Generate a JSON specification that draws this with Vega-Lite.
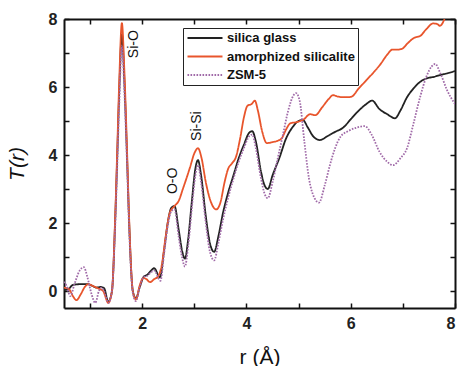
{
  "$schema": "https://vega.github.io/schema/vega-lite/v6.json",
  "width": 391,
  "height": 289,
  "autosize": {"type": "none"},
  "padding": {"left": 64, "top": 19, "right": 3, "bottom": 58},
  "background": "white",
  "config": {
    "font": "Liberation Sans",
    "view": {"stroke": null},
    "axis": {
      "domainColor": "#111",
      "domainWidth": 2,
      "tickColor": "#111",
      "tickWidth": 1.5,
      "tickSize": -5,
      "grid": false,
      "labelFont": "Liberation Sans",
      "labelFontSize": 16,
      "labelFontWeight": "bold",
      "labelColor": "#222",
      "titleFont": "Liberation Sans",
      "titleFontSize": 21,
      "titleFontWeight": "normal",
      "titleColor": "#111"
    },
    "legend": {
      "symbolType": "M-3,0H3",
      "symbolSize": 136,
      "symbolOffset": 12,
      "symbolStrokeWidth": 2,
      "labelOffset": 15,
      "labelFont": "Liberation Sans",
      "labelFontSize": 13,
      "labelFontWeight": "bold",
      "labelColor": "#111",
      "rowPadding": 4.5,
      "padding": 3,
      "strokeColor": "#222",
      "fillColor": "white"
    }
  },
  "datasets": {
    "curves": [
      {"r":0.5,"T":0.03,"s":"silica glass"},{"r":0.58,"T":0.05,"s":"silica glass"},{"r":0.67,"T":0.18,"s":"silica glass"},{"r":0.8,"T":0.2,"s":"silica glass"},{"r":0.95,"T":0.2,"s":"silica glass"},{"r":1.05,"T":0.15,"s":"silica glass"},{"r":1.12,"T":0.1,"s":"silica glass"},{"r":1.2,"T":0.12,"s":"silica glass"},{"r":1.27,"T":0.08,"s":"silica glass"},{"r":1.35,"T":-0.32,"s":"silica glass"},{"r":1.42,"T":0.0,"s":"silica glass"},{"r":1.48,"T":2.0,"s":"silica glass"},{"r":1.52,"T":3.9,"s":"silica glass"},{"r":1.56,"T":5.9,"s":"silica glass"},{"r":1.61,"T":7.55,"s":"silica glass"},{"r":1.66,"T":6.1,"s":"silica glass"},{"r":1.71,"T":3.9,"s":"silica glass"},{"r":1.75,"T":2.0,"s":"silica glass"},{"r":1.82,"T":0.0,"s":"silica glass"},{"r":1.88,"T":-0.22,"s":"silica glass"},{"r":1.95,"T":0.1,"s":"silica glass"},{"r":2.03,"T":0.42,"s":"silica glass"},{"r":2.1,"T":0.48,"s":"silica glass"},{"r":2.17,"T":0.6,"s":"silica glass"},{"r":2.23,"T":0.67,"s":"silica glass"},{"r":2.34,"T":0.4,"s":"silica glass"},{"r":2.42,"T":1.2,"s":"silica glass"},{"r":2.5,"T":2.1,"s":"silica glass"},{"r":2.56,"T":2.45,"s":"silica glass"},{"r":2.62,"T":2.5,"s":"silica glass"},{"r":2.7,"T":1.8,"s":"silica glass"},{"r":2.77,"T":1.15,"s":"silica glass"},{"r":2.82,"T":0.95,"s":"silica glass"},{"r":2.88,"T":1.5,"s":"silica glass"},{"r":2.95,"T":2.6,"s":"silica glass"},{"r":3.02,"T":3.6,"s":"silica glass"},{"r":3.07,"T":3.85,"s":"silica glass"},{"r":3.13,"T":3.4,"s":"silica glass"},{"r":3.22,"T":2.2,"s":"silica glass"},{"r":3.3,"T":1.4,"s":"silica glass"},{"r":3.38,"T":1.15,"s":"silica glass"},{"r":3.46,"T":1.6,"s":"silica glass"},{"r":3.55,"T":2.3,"s":"silica glass"},{"r":3.65,"T":2.9,"s":"silica glass"},{"r":3.75,"T":3.4,"s":"silica glass"},{"r":3.85,"T":3.9,"s":"silica glass"},{"r":3.95,"T":4.3,"s":"silica glass"},{"r":4.05,"T":4.65,"s":"silica glass"},{"r":4.11,"T":4.7,"s":"silica glass"},{"r":4.18,"T":4.4,"s":"silica glass"},{"r":4.28,"T":3.5,"s":"silica glass"},{"r":4.35,"T":3.1,"s":"silica glass"},{"r":4.41,"T":3.0,"s":"silica glass"},{"r":4.5,"T":3.4,"s":"silica glass"},{"r":4.64,"T":3.95,"s":"silica glass"},{"r":4.75,"T":4.45,"s":"silica glass"},{"r":4.89,"T":4.83,"s":"silica glass"},{"r":5.0,"T":5.0,"s":"silica glass"},{"r":5.08,"T":5.03,"s":"silica glass"},{"r":5.18,"T":4.8,"s":"silica glass"},{"r":5.28,"T":4.55,"s":"silica glass"},{"r":5.41,"T":4.44,"s":"silica glass"},{"r":5.55,"T":4.55,"s":"silica glass"},{"r":5.7,"T":4.68,"s":"silica glass"},{"r":5.85,"T":4.8,"s":"silica glass"},{"r":6.0,"T":5.05,"s":"silica glass"},{"r":6.15,"T":5.3,"s":"silica glass"},{"r":6.3,"T":5.5,"s":"silica glass"},{"r":6.41,"T":5.6,"s":"silica glass"},{"r":6.55,"T":5.35,"s":"silica glass"},{"r":6.7,"T":5.2,"s":"silica glass"},{"r":6.85,"T":5.08,"s":"silica glass"},{"r":6.95,"T":5.3,"s":"silica glass"},{"r":7.08,"T":5.7,"s":"silica glass"},{"r":7.2,"T":5.95,"s":"silica glass"},{"r":7.33,"T":6.15,"s":"silica glass"},{"r":7.45,"T":6.25,"s":"silica glass"},{"r":7.6,"T":6.3,"s":"silica glass"},{"r":7.71,"T":6.35,"s":"silica glass"},{"r":7.85,"T":6.4,"s":"silica glass"},{"r":8.0,"T":6.47,"s":"silica glass"},

      {"r":0.5,"T":0.1,"s":"amorphized silicalite"},{"r":0.6,"T":0.05,"s":"amorphized silicalite"},{"r":0.67,"T":-0.15,"s":"amorphized silicalite"},{"r":0.74,"T":-0.27,"s":"amorphized silicalite"},{"r":0.82,"T":-0.1,"s":"amorphized silicalite"},{"r":0.9,"T":0.12,"s":"amorphized silicalite"},{"r":0.97,"T":0.2,"s":"amorphized silicalite"},{"r":1.05,"T":0.15,"s":"amorphized silicalite"},{"r":1.15,"T":0.08,"s":"amorphized silicalite"},{"r":1.25,"T":0.0,"s":"amorphized silicalite"},{"r":1.35,"T":-0.35,"s":"amorphized silicalite"},{"r":1.42,"T":0.0,"s":"amorphized silicalite"},{"r":1.48,"T":2.1,"s":"amorphized silicalite"},{"r":1.52,"T":4.1,"s":"amorphized silicalite"},{"r":1.56,"T":6.2,"s":"amorphized silicalite"},{"r":1.61,"T":7.88,"s":"amorphized silicalite"},{"r":1.66,"T":6.4,"s":"amorphized silicalite"},{"r":1.71,"T":4.1,"s":"amorphized silicalite"},{"r":1.75,"T":2.1,"s":"amorphized silicalite"},{"r":1.82,"T":0.0,"s":"amorphized silicalite"},{"r":1.88,"T":-0.25,"s":"amorphized silicalite"},{"r":1.95,"T":0.15,"s":"amorphized silicalite"},{"r":2.02,"T":0.38,"s":"amorphized silicalite"},{"r":2.08,"T":0.35,"s":"amorphized silicalite"},{"r":2.15,"T":0.26,"s":"amorphized silicalite"},{"r":2.23,"T":0.35,"s":"amorphized silicalite"},{"r":2.3,"T":0.42,"s":"amorphized silicalite"},{"r":2.38,"T":0.8,"s":"amorphized silicalite"},{"r":2.45,"T":1.6,"s":"amorphized silicalite"},{"r":2.53,"T":2.3,"s":"amorphized silicalite"},{"r":2.62,"T":2.5,"s":"amorphized silicalite"},{"r":2.7,"T":2.65,"s":"amorphized silicalite"},{"r":2.78,"T":3.0,"s":"amorphized silicalite"},{"r":2.92,"T":3.65,"s":"amorphized silicalite"},{"r":3.0,"T":4.05,"s":"amorphized silicalite"},{"r":3.07,"T":4.2,"s":"amorphized silicalite"},{"r":3.14,"T":3.9,"s":"amorphized silicalite"},{"r":3.22,"T":3.2,"s":"amorphized silicalite"},{"r":3.3,"T":2.7,"s":"amorphized silicalite"},{"r":3.42,"T":2.4,"s":"amorphized silicalite"},{"r":3.5,"T":2.6,"s":"amorphized silicalite"},{"r":3.58,"T":3.2,"s":"amorphized silicalite"},{"r":3.65,"T":3.6,"s":"amorphized silicalite"},{"r":3.72,"T":3.75,"s":"amorphized silicalite"},{"r":3.8,"T":3.95,"s":"amorphized silicalite"},{"r":3.88,"T":4.5,"s":"amorphized silicalite"},{"r":3.95,"T":5.1,"s":"amorphized silicalite"},{"r":4.02,"T":5.45,"s":"amorphized silicalite"},{"r":4.1,"T":5.5,"s":"amorphized silicalite"},{"r":4.16,"T":5.6,"s":"amorphized silicalite"},{"r":4.22,"T":5.3,"s":"amorphized silicalite"},{"r":4.3,"T":4.7,"s":"amorphized silicalite"},{"r":4.39,"T":4.35,"s":"amorphized silicalite"},{"r":4.5,"T":4.38,"s":"amorphized silicalite"},{"r":4.6,"T":4.42,"s":"amorphized silicalite"},{"r":4.68,"T":4.5,"s":"amorphized silicalite"},{"r":4.76,"T":4.75,"s":"amorphized silicalite"},{"r":4.84,"T":4.93,"s":"amorphized silicalite"},{"r":4.97,"T":4.97,"s":"amorphized silicalite"},{"r":5.1,"T":5.05,"s":"amorphized silicalite"},{"r":5.22,"T":5.2,"s":"amorphized silicalite"},{"r":5.32,"T":5.17,"s":"amorphized silicalite"},{"r":5.45,"T":5.4,"s":"amorphized silicalite"},{"r":5.58,"T":5.65,"s":"amorphized silicalite"},{"r":5.66,"T":5.76,"s":"amorphized silicalite"},{"r":5.75,"T":5.72,"s":"amorphized silicalite"},{"r":5.83,"T":5.7,"s":"amorphized silicalite"},{"r":5.95,"T":5.7,"s":"amorphized silicalite"},{"r":6.02,"T":5.72,"s":"amorphized silicalite"},{"r":6.15,"T":5.95,"s":"amorphized silicalite"},{"r":6.3,"T":6.2,"s":"amorphized silicalite"},{"r":6.45,"T":6.45,"s":"amorphized silicalite"},{"r":6.56,"T":6.65,"s":"amorphized silicalite"},{"r":6.7,"T":6.95,"s":"amorphized silicalite"},{"r":6.8,"T":7.1,"s":"amorphized silicalite"},{"r":6.9,"T":7.1,"s":"amorphized silicalite"},{"r":6.98,"T":7.12,"s":"amorphized silicalite"},{"r":7.1,"T":7.3,"s":"amorphized silicalite"},{"r":7.22,"T":7.45,"s":"amorphized silicalite"},{"r":7.33,"T":7.5,"s":"amorphized silicalite"},{"r":7.45,"T":7.7,"s":"amorphized silicalite"},{"r":7.58,"T":7.87,"s":"amorphized silicalite"},{"r":7.66,"T":7.85,"s":"amorphized silicalite"},{"r":7.71,"T":7.8,"s":"amorphized silicalite"},{"r":7.8,"T":8.0,"s":"amorphized silicalite"},

      {"r":0.5,"T":0.27,"s":"ZSM-5"},{"r":0.55,"T":0.15,"s":"ZSM-5"},{"r":0.62,"T":-0.15,"s":"ZSM-5"},{"r":0.7,"T":0.2,"s":"ZSM-5"},{"r":0.8,"T":0.6,"s":"ZSM-5"},{"r":0.88,"T":0.7,"s":"ZSM-5"},{"r":0.95,"T":0.4,"s":"ZSM-5"},{"r":1.03,"T":-0.1,"s":"ZSM-5"},{"r":1.1,"T":-0.35,"s":"ZSM-5"},{"r":1.17,"T":0.0,"s":"ZSM-5"},{"r":1.22,"T":0.1,"s":"ZSM-5"},{"r":1.27,"T":0.0,"s":"ZSM-5"},{"r":1.35,"T":-0.35,"s":"ZSM-5"},{"r":1.42,"T":0.0,"s":"ZSM-5"},{"r":1.48,"T":1.8,"s":"ZSM-5"},{"r":1.52,"T":3.6,"s":"ZSM-5"},{"r":1.56,"T":5.5,"s":"ZSM-5"},{"r":1.61,"T":7.2,"s":"ZSM-5"},{"r":1.66,"T":5.8,"s":"ZSM-5"},{"r":1.71,"T":3.7,"s":"ZSM-5"},{"r":1.75,"T":1.8,"s":"ZSM-5"},{"r":1.82,"T":-0.05,"s":"ZSM-5"},{"r":1.88,"T":-0.3,"s":"ZSM-5"},{"r":1.95,"T":0.1,"s":"ZSM-5"},{"r":2.03,"T":0.42,"s":"ZSM-5"},{"r":2.1,"T":0.45,"s":"ZSM-5"},{"r":2.17,"T":0.55,"s":"ZSM-5"},{"r":2.23,"T":0.6,"s":"ZSM-5"},{"r":2.35,"T":0.3,"s":"ZSM-5"},{"r":2.42,"T":1.1,"s":"ZSM-5"},{"r":2.5,"T":2.0,"s":"ZSM-5"},{"r":2.56,"T":2.35,"s":"ZSM-5"},{"r":2.62,"T":2.4,"s":"ZSM-5"},{"r":2.7,"T":1.6,"s":"ZSM-5"},{"r":2.77,"T":0.95,"s":"ZSM-5"},{"r":2.82,"T":0.72,"s":"ZSM-5"},{"r":2.88,"T":1.3,"s":"ZSM-5"},{"r":2.95,"T":2.4,"s":"ZSM-5"},{"r":3.02,"T":3.4,"s":"ZSM-5"},{"r":3.07,"T":3.7,"s":"ZSM-5"},{"r":3.13,"T":3.2,"s":"ZSM-5"},{"r":3.22,"T":2.0,"s":"ZSM-5"},{"r":3.3,"T":1.15,"s":"ZSM-5"},{"r":3.38,"T":0.9,"s":"ZSM-5"},{"r":3.46,"T":1.4,"s":"ZSM-5"},{"r":3.55,"T":2.1,"s":"ZSM-5"},{"r":3.65,"T":2.75,"s":"ZSM-5"},{"r":3.75,"T":3.3,"s":"ZSM-5"},{"r":3.85,"T":3.8,"s":"ZSM-5"},{"r":3.95,"T":4.2,"s":"ZSM-5"},{"r":4.05,"T":4.55,"s":"ZSM-5"},{"r":4.11,"T":4.6,"s":"ZSM-5"},{"r":4.18,"T":4.2,"s":"ZSM-5"},{"r":4.28,"T":3.3,"s":"ZSM-5"},{"r":4.35,"T":2.85,"s":"ZSM-5"},{"r":4.41,"T":2.73,"s":"ZSM-5"},{"r":4.5,"T":3.2,"s":"ZSM-5"},{"r":4.6,"T":3.9,"s":"ZSM-5"},{"r":4.7,"T":4.6,"s":"ZSM-5"},{"r":4.8,"T":5.3,"s":"ZSM-5"},{"r":4.9,"T":5.75,"s":"ZSM-5"},{"r":4.95,"T":5.82,"s":"ZSM-5"},{"r":5.02,"T":5.6,"s":"ZSM-5"},{"r":5.11,"T":4.4,"s":"ZSM-5"},{"r":5.2,"T":3.3,"s":"ZSM-5"},{"r":5.3,"T":2.75,"s":"ZSM-5"},{"r":5.39,"T":2.6,"s":"ZSM-5"},{"r":5.5,"T":3.1,"s":"ZSM-5"},{"r":5.6,"T":3.7,"s":"ZSM-5"},{"r":5.7,"T":4.2,"s":"ZSM-5"},{"r":5.8,"T":4.53,"s":"ZSM-5"},{"r":5.95,"T":4.7,"s":"ZSM-5"},{"r":6.1,"T":4.8,"s":"ZSM-5"},{"r":6.27,"T":4.85,"s":"ZSM-5"},{"r":6.4,"T":4.6,"s":"ZSM-5"},{"r":6.55,"T":4.1,"s":"ZSM-5"},{"r":6.7,"T":3.8,"s":"ZSM-5"},{"r":6.81,"T":3.7,"s":"ZSM-5"},{"r":6.95,"T":3.9,"s":"ZSM-5"},{"r":7.08,"T":4.2,"s":"ZSM-5"},{"r":7.2,"T":4.9,"s":"ZSM-5"},{"r":7.33,"T":5.7,"s":"ZSM-5"},{"r":7.45,"T":6.3,"s":"ZSM-5"},{"r":7.55,"T":6.6,"s":"ZSM-5"},{"r":7.62,"T":6.68,"s":"ZSM-5"},{"r":7.72,"T":6.4,"s":"ZSM-5"},{"r":7.85,"T":5.9,"s":"ZSM-5"},{"r":8.0,"T":5.5,"s":"ZSM-5"}
    ],
    "labels": [
      {"r": 1.84, "T": 7.26, "label": "Si-O"},
      {"r": 2.59, "T": 3.24, "label": "O-O"},
      {"r": 3.05, "T": 4.85, "label": "Si-Si"}
    ]
  },
  "resolve": {"axis": {"x": "independent", "y": "independent"}},
  "layer": [
    {
      "data": {"name": "curves"},
      "mark": {"type": "line", "interpolate": "monotone", "clip": true, "strokeWidth": 1.8},
      "encoding": {
        "x": {"field": "r", "type": "quantitative",
          "scale": {"domain": [0.5, 8], "nice": false, "zero": false},
          "axis": {"title": "r (Å)", "values": [1,2,3,4,5,6,7,8],
            "labelExpr": "datum.value % 2 == 0 ? datum.label : ''", "labelPadding": 12, "titlePadding": 15}},
        "y": {"field": "T", "type": "quantitative",
          "scale": {"domain": [-0.5, 8], "nice": false, "zero": false},
          "axis": {"title": "T(r)", "titleFontStyle": "italic", "values": [0,1,2,3,4,5,6,7,8],
            "labelExpr": "datum.value % 2 == 0 ? datum.label : ''", "labelPadding": 12, "titlePadding": 21}},
        "color": {"field": "s", "type": "nominal",
          "scale": {"domain": ["silica glass", "amorphized silicalite", "ZSM-5"], "range": ["#222222", "#e8552c", "#a06aa8"]},
          "legend": {"title": null, "orient": "none", "legendX": 119, "legendY": 9}},
        "strokeDash": {"field": "s", "type": "nominal",
          "scale": {"domain": ["silica glass", "amorphized silicalite", "ZSM-5"], "range": [[1,0],[1,0],[1.6,1.4]]},
          "legend": {"title": null, "orient": "none", "legendX": 119, "legendY": 9}}
      }
    },
    {
      "data": {"name": "labels"},
      "mark": {"type": "text", "angle": 270, "align": "center", "baseline": "middle", "fontSize": 14, "font": "Liberation Sans", "color": "#111"},
      "encoding": {
        "x": {"field": "r", "type": "quantitative", "axis": {"orient": "top", "title": null, "values": [1,2,3,4,5,6,7,8], "labels": false, "domainWidth": 2}},
        "y": {"field": "T", "type": "quantitative", "axis": {"orient": "right", "title": null, "values": [0,1,2,3,4,5,6,7,8], "labels": false, "domainWidth": 2}},
        "text": {"field": "label"}
      }
    }
  ]
}
